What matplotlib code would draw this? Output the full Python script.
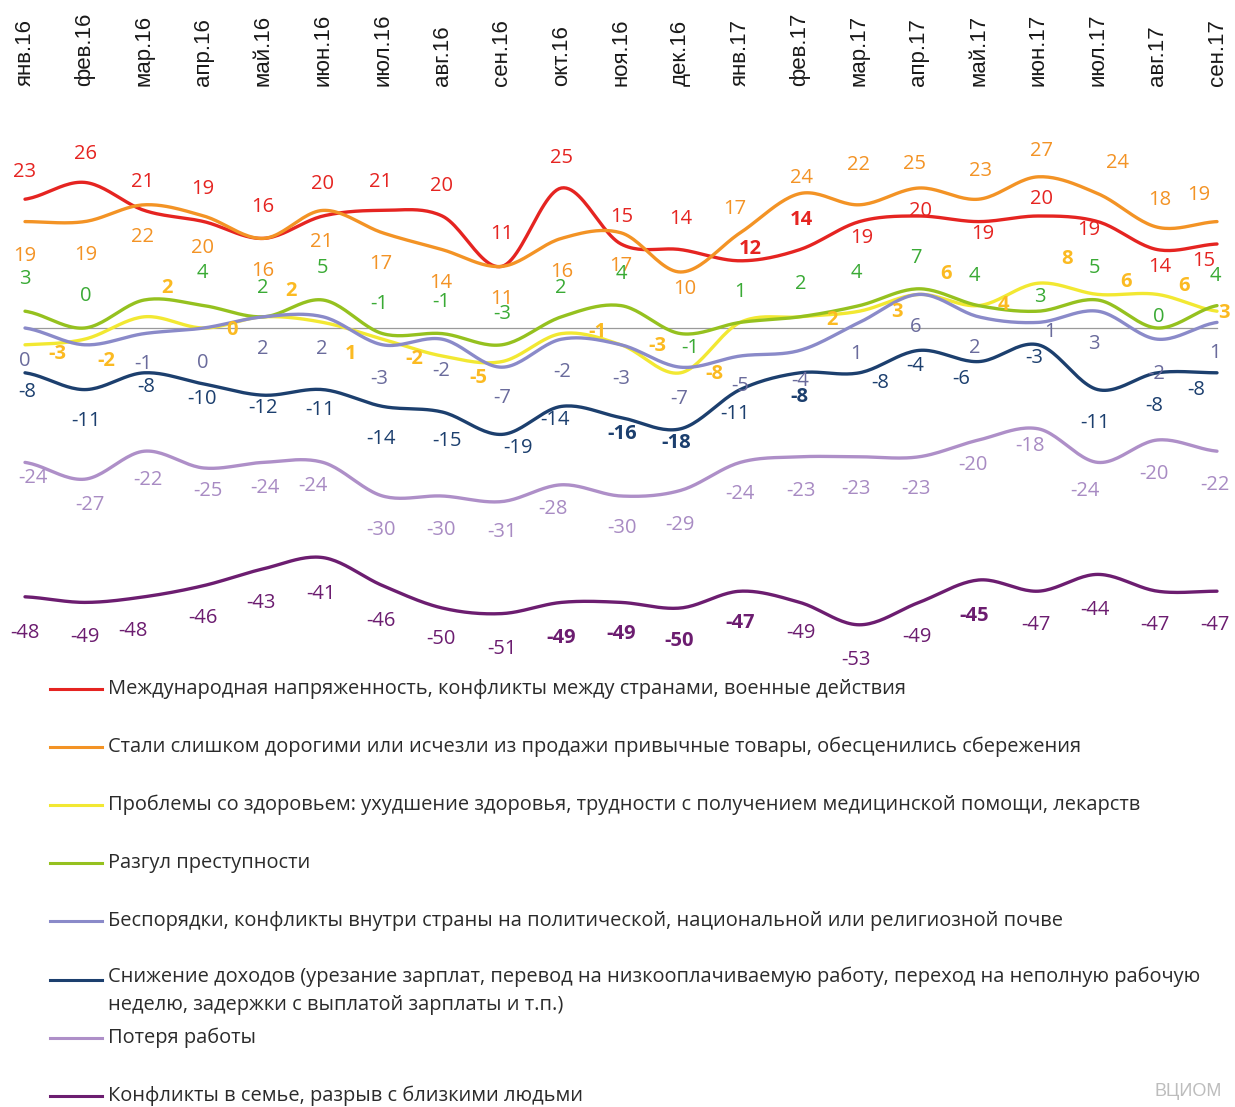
import numpy as np
import matplotlib
matplotlib.use("Agg")
import matplotlib.pyplot as plt
import matplotlib.transforms as mtransforms
from matplotlib.lines import Line2D

# months along the top
months = ["янв.16", "фев.16", "мар.16", "апр.16", "май.16", "июн.16", "июл.16",
          "авг.16", "сен.16", "окт.16", "ноя.16", "дек.16", "янв.17", "фев.17",
          "мар.17", "апр.17", "май.17", "июн.17", "июл.17", "авг.17", "сен.17"]

# series values (balance, %)
intl_tension = [23, 26, 21, 19, 16, 20, 21, 20, 11, 25, 15, 14, 12, 14, 19, 20, 19, 20, 19, 14, 15]
prices = [19, 19, 22, 20, 16, 21, 17, 14, 11, 16, 17, 10, 17, 24, 22, 25, 23, 27, 24, 18, 19]
health = [-3, -2, 2, 0, 2, 1, -2, -5, -6, -1, -3, -8, 1, 2, 3, 6, 4, 8, 6, 6, 3]
crime = [3, 0, 5, 4, 2, 5, -1, -1, -3, 2, 4, -1, 1, 2, 4, 7, 4, 3, 5, 0, 4]
unrest = [0, -3, -1, 0, 2, 2, -3, -2, -7, -2, -3, -7, -5, -4, 1, 6, 2, 1, 3, -2, 1]
income = [-8, -11, -8, -10, -12, -11, -14, -15, -19, -14, -16, -18, -11, -8, -8, -4, -6, -3, -11, -8, -8]
job_loss = [-24, -27, -22, -25, -24, -24, -30, -30, -31, -28, -30, -29, -24, -23, -23, -23, -20, -18, -24, -20, -22]
family = [-48, -49, -48, -46, -43, -41, -46, -50, -51, -49, -49, -50, -47, -49, -53, -49, -45, -47, -44, -47, -47]

names = [
    "Международная напряженность, конфликты между странами, военные действия",
    "Стали слишком дорогими или исчезли из продажи привычные товары, обесценились сбережения",
    "Проблемы со здоровьем: ухудшение здоровья, трудности с получением медицинской помощи, лекарств",
    "Разгул преступности",
    "Беспорядки, конфликты внутри страны на политической, национальной или религиозной почве",
    "Снижение доходов (урезание зарплат, перевод на низкооплачиваемую работу, переход на неполную рабочую\nнеделю, задержки с выплатой зарплаты и т.п.)",
    "Потеря работы",
    "Конфликты в семье, разрыв с близкими людьми",
]

# label offsets in pixels (dx, dy down), None = label not shown
off_red = [(0,-27),(1,-28),(-2,-28),(-1,-33),(-1,-31),(-1,-32),(-2,-28),(-1,-30),(0,-32),(0,-30),(1,-27),
           (0,-31),(10,-12),(2,-30),(2,16),(2,-5),(4,12),(3,-17),(-9,8),(2,17),(-13,17)]
off_orange = [(0,34),(1,33),(-2,32),(-1,32),(-1,33),(-1,32),(-2,31),(-1,33),(0,33),(0,34),(0,33),
              (4,17),(-5,-24),(2,-16),(-1,-40),(-4,-24),(2,-28),(3,-26),(20,-31),(2,-27),(-18,-27)]
off_yellow = [(32,9),(22,22),(23,-29),(28,2),(28,-26),(28,32),(32,20),(36,22),None,(36,-2),(36,1),
              (34,1),None,(32,3),(38,1),(27,-20),(25,-1),(29,-24),(28,-12),(27,-8),(7,2)]
off_green = [(0,-32),(1,-32),None,(-1,-33),(-1,-29),(-1,-32),(-3,-30),(-1,-32),(0,-31),(-1,-29),(0,-32),
             (10,14),(0,-30),(1,-33),(-3,-33),(-3,-31),(-4,-30),(2,-14),(-3,-32),(1,-11),(-2,-30)]
off_unrest = [(0,33),None,(-1,30),(-1,35),(-1,32),(-1,32),(-3,34),(-1,32),(0,31),(1,33),(0,34),
              (-1,32),(0,30),(0,31),(-3,32),(-3,33),(-4,31),(12,10),(-4,33),(-1,35),(-2,31)]
off_income = [(2,19),(1,31),(2,14),(-2,15),(0,13),(-3,20),(-2,33),(5,29),(16,14),(-6,14),(1,16),
              (-4,14),(-5,24),(0,24),(21,10),(-4,16),(-17,17),(-4,13),(-3,33),(-3,33),(-21,17)]
off_job = [(8,16),(5,26),(4,29),(4,23),(2,26),(-10,24),(-2,34),(-1,34),(0,30),(-8,24),(1,32),
           (-1,35),(0,32),(1,34),(-3,32),(-3,32),(-6,25),(-8,17),(-13,29),(-3,34),(-2,34)]
off_family = [(0,36),(0,35),(-11,34),(-1,32),(-2,34),(-2,36),(-2,35),(-1,31),(0,35),(0,36),(0,32),
              (-1,33),(0,32),(1,31),(-3,35),(-2,35),(-4,36),(-2,34),(-3,36),(-2,34),(-2,34)]

series = [
    # values, line colour, label colour, offsets, bold label indices
    (intl_tension, "#E52421", "#E52421", off_red, {12, 13}),
    (prices, "#F39325", "#F39325", off_orange, set()),
    (health, "#F2E832", "#FBBA22", off_yellow, set(range(21))),
    (crime, "#95C11F", "#3AAA35", off_green, set()),
    (unrest, "#8A8AC9", "#6A6B9C", off_unrest, set()),
    (income, "#1C3F6E", "#1C3F6E", off_income, {10, 11, 13}),
    (job_loss, "#AE8FC8", "#A88BC3", off_job, set()),
    (family, "#6C1D70", "#6C1D70", off_family, {9, 10, 11, 12, 16}),
]


def smooth(y, n=24):
    # catmull-rom through the points, like excel "smoothed line"
    p = np.asarray(y, dtype=float)
    p = np.concatenate([[p[0]], p, [p[-1]]])
    xs, ys = [], []
    t = np.linspace(0, 1, n, endpoint=False)
    for i in range(1, len(p) - 2):
        p0, p1, p2, p3 = p[i - 1], p[i], p[i + 1], p[i + 2]
        yy = 0.5 * ((2 * p1) + (-p0 + p2) * t + (2 * p0 - 5 * p1 + 4 * p2 - p3) * t ** 2
                    + (-p0 + 3 * p1 - 3 * p2 + p3) * t ** 3)
        xs.append(i - 1 + t)
        ys.append(yy)
    xs.append([len(p) - 3])
    ys.append([p[-2]])
    return np.concatenate(xs), np.concatenate(ys)


W, H = 1235, 1107
fig = plt.figure(figsize=(W / 100, H / 100), dpi=100)
fig.patch.set_facecolor("white")

x0, dx = 25, 59.6      # pixel of first month, month step
y0, k = 328, 5.6       # pixel of zero, px per unit
top, bot = 110, 670
ax = fig.add_axes([0, 1 - bot / H, 1, (bot - top) / H])
ax.set_xlim(-x0 / dx, (W - x0) / dx)
ax.set_ylim((y0 - bot) / k, (y0 - top) / k)
ax.axis("off")

lab_font = "Open Sans"
ax.plot([0, len(months) - 1], [0, 0], color="#9A9A9A", lw=0.9, zorder=1)

for vals, lc, tc, offs, bold in series:
    sx, sy = smooth(vals)
    ax.plot(sx, sy, color=lc, lw=2.4, solid_capstyle="round", zorder=2)
    for i, v in enumerate(vals):
        if offs[i] is None:
            continue
        ox, oy = offs[i]
        ax.annotate(str(v), (i, v), xytext=(ox, -oy), textcoords="offset pixels",
                    ha="center", va="center", fontsize=14.5, color=tc, family=lab_font,
                    fontweight="bold" if i in bold else "normal",
                    annotation_clip=False, zorder=3)

# month labels on top
tr = mtransforms.blended_transform_factory(ax.transData, fig.transFigure)
for i, m in enumerate(months):
    ax.text(i, 1 - 86 / H, m, transform=tr, rotation=90, ha="center", va="bottom",
            fontsize=16, color="#1A1A1A", family="Liberation Sans")

# legend drawn by hand
leg_y = [689, 747, 805, 863, 921, 980, 1038, 1096]
for (vals, lc, tc, offs, bold), nm, ly in zip(series, names, leg_y):
    fig.add_artist(Line2D([50 / W, 102 / W], [1 - ly / H, 1 - ly / H], color=lc, lw=2.2))
    if "\n" in nm:
        fig.text(108 / W, 1 - (ly - 13) / H, nm, ha="left", va="top", fontsize=14.4,
                 color="#2B2B2B", family=lab_font, linespacing=1.5)
    else:
        fig.text(108 / W, 1 - ly / H, nm, ha="left", va="center", fontsize=14.4,
                 color="#2B2B2B", family=lab_font)

fig.text(1188 / W, 1 - 1092 / H, "ВЦИОМ", ha="center", va="center", fontsize=13,
         color="#BDBDBD", family="Liberation Sans")

fig.savefig("out.png", dpi=100, facecolor="white")
